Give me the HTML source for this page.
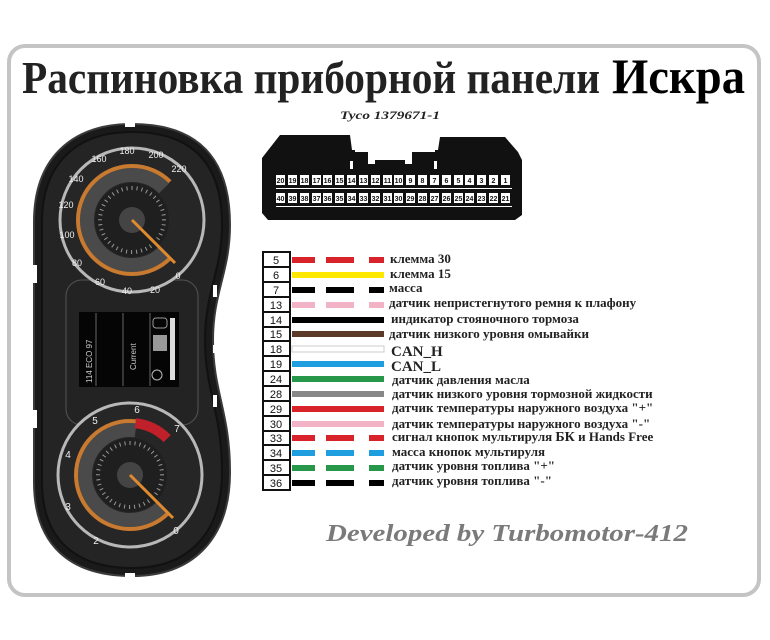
<!DOCTYPE html>
<html><head><meta charset="utf-8"><style>
html,body{margin:0;padding:0;background:#fff;}
svg{display:block;}
</style></head><body>
<svg width="770" height="640" viewBox="0 0 770 640" xmlns="http://www.w3.org/2000/svg" font-family="Liberation Serif, serif">
<rect x="9" y="46" width="750" height="549" rx="16" fill="#fff" stroke="#c4c4c4" stroke-width="4"/>
<text x="22" y="93" font-size="46" font-weight="bold" fill="#222" textLength="578" lengthAdjust="spacingAndGlyphs">Распиновка приборной панели</text>
<text x="612" y="93" font-size="50" font-weight="bold" fill="#000" textLength="133" lengthAdjust="spacingAndGlyphs">Искра</text>
<text x="340" y="119" font-size="12" font-weight="bold" font-style="italic" fill="#222" textLength="100" lengthAdjust="spacingAndGlyphs">Tyco 1379671-1</text>

<!-- connector -->
<path d="M280 135 L350 135 L352 150 L438 150 L440 137 L505 137 L518 152 L522 160 L522 215 L515 220 L268 220 L262 213 L262 158 Z" fill="#111"/>
<rect x="355" y="146" width="80" height="6" fill="#fff"/>
<rect x="368" y="150" width="44" height="14" fill="#fff"/>
<rect x="375" y="160" width="30" height="8" fill="#111"/>
<rect x="350" y="161" width="3" height="8" fill="#fff"/>
<rect x="434" y="161" width="3" height="8" fill="#fff"/>
<g id="pins" font-family="Liberation Sans, sans-serif" font-size="7" font-weight="bold" text-anchor="middle">
<g fill="#fff">
<rect x="276" y="175" width="9" height="10"/><rect x="288" y="175" width="9" height="10"/><rect x="300" y="175" width="9" height="10"/><rect x="312" y="175" width="9" height="10"/><rect x="323" y="175" width="9" height="10"/><rect x="335" y="175" width="9" height="10"/><rect x="347" y="175" width="9" height="10"/><rect x="359" y="175" width="9" height="10"/><rect x="371" y="175" width="9" height="10"/><rect x="383" y="175" width="9" height="10"/><rect x="394" y="175" width="9" height="10"/><rect x="406" y="175" width="9" height="10"/><rect x="418" y="175" width="9" height="10"/><rect x="430" y="175" width="9" height="10"/><rect x="442" y="175" width="9" height="10"/><rect x="454" y="175" width="9" height="10"/><rect x="465" y="175" width="9" height="10"/><rect x="477" y="175" width="9" height="10"/><rect x="489" y="175" width="9" height="10"/><rect x="501" y="175" width="9" height="10"/>
<rect x="276" y="193" width="9" height="10"/><rect x="288" y="193" width="9" height="10"/><rect x="300" y="193" width="9" height="10"/><rect x="312" y="193" width="9" height="10"/><rect x="323" y="193" width="9" height="10"/><rect x="335" y="193" width="9" height="10"/><rect x="347" y="193" width="9" height="10"/><rect x="359" y="193" width="9" height="10"/><rect x="371" y="193" width="9" height="10"/><rect x="383" y="193" width="9" height="10"/><rect x="394" y="193" width="9" height="10"/><rect x="406" y="193" width="9" height="10"/><rect x="418" y="193" width="9" height="10"/><rect x="430" y="193" width="9" height="10"/><rect x="442" y="193" width="9" height="10"/><rect x="454" y="193" width="9" height="10"/><rect x="465" y="193" width="9" height="10"/><rect x="477" y="193" width="9" height="10"/><rect x="489" y="193" width="9" height="10"/><rect x="501" y="193" width="9" height="10"/>
</g>
<g fill="#fff"><rect x="276" y="188" width="236" height="1"/><rect x="276" y="206" width="236" height="1"/></g>
<g fill="#111">
<text x="280.5" y="183">20</text><text x="292.5" y="183">19</text><text x="304.5" y="183">18</text><text x="316.5" y="183">17</text><text x="327.5" y="183">16</text><text x="339.5" y="183">15</text><text x="351.5" y="183">14</text><text x="363.5" y="183">13</text><text x="375.5" y="183">12</text><text x="387.5" y="183">11</text><text x="398.5" y="183">10</text><text x="410.5" y="183">9</text><text x="422.5" y="183">8</text><text x="434.5" y="183">7</text><text x="446.5" y="183">6</text><text x="458.5" y="183">5</text><text x="469.5" y="183">4</text><text x="481.5" y="183">3</text><text x="493.5" y="183">2</text><text x="505.5" y="183">1</text>
<text x="280.5" y="201">40</text><text x="292.5" y="201">39</text><text x="304.5" y="201">38</text><text x="316.5" y="201">37</text><text x="327.5" y="201">36</text><text x="339.5" y="201">35</text><text x="351.5" y="201">34</text><text x="363.5" y="201">33</text><text x="375.5" y="201">32</text><text x="387.5" y="201">31</text><text x="398.5" y="201">30</text><text x="410.5" y="201">29</text><text x="422.5" y="201">28</text><text x="434.5" y="201">27</text><text x="446.5" y="201">26</text><text x="458.5" y="201">25</text><text x="469.5" y="201">24</text><text x="481.5" y="201">23</text><text x="493.5" y="201">22</text><text x="505.5" y="201">21</text>
</g>
</g>

<!-- legend -->
<g font-family="Liberation Sans, sans-serif" font-size="11" text-anchor="middle" fill="#111">
<rect x="263" y="252" width="27" height="238" fill="#fff" stroke="#111" stroke-width="2"/>
<g stroke="#111" stroke-width="2">
<line x1="263" y1="267" x2="290" y2="267"/><line x1="263" y1="282" x2="290" y2="282"/><line x1="263" y1="297" x2="290" y2="297"/><line x1="263" y1="312" x2="290" y2="312"/><line x1="263" y1="327" x2="290" y2="327"/><line x1="263" y1="341" x2="290" y2="341"/><line x1="263" y1="356" x2="290" y2="356"/><line x1="263" y1="371" x2="290" y2="371"/><line x1="263" y1="386" x2="290" y2="386"/><line x1="263" y1="401" x2="290" y2="401"/><line x1="263" y1="416" x2="290" y2="416"/><line x1="263" y1="431" x2="290" y2="431"/><line x1="263" y1="445" x2="290" y2="445"/><line x1="263" y1="460" x2="290" y2="460"/><line x1="263" y1="475" x2="290" y2="475"/>
</g>
<text x="276" y="264">5</text><text x="276" y="279">6</text><text x="276" y="294">7</text><text x="276" y="309">13</text><text x="276" y="324">14</text><text x="276" y="338">15</text><text x="276" y="353">18</text><text x="276" y="368">19</text><text x="276" y="383">24</text><text x="276" y="398">28</text><text x="276" y="413">29</text><text x="276" y="428">30</text><text x="276" y="442">33</text><text x="276" y="457">34</text><text x="276" y="472">35</text><text x="276" y="487">36</text>
</g>
<g stroke-width="6" fill="none">
<line x1="292" y1="260" x2="384" y2="260" stroke="#d8232a" stroke-dasharray="23 11 28 15 16"/>
<line x1="292" y1="275" x2="384" y2="275" stroke="#ffe800"/>
<line x1="292" y1="290" x2="384" y2="290" stroke="#000" stroke-dasharray="23 11 28 15 16"/>
<line x1="292" y1="305" x2="384" y2="305" stroke="#f2b3c6" stroke-dasharray="23 11 28 15 16"/>
<line x1="292" y1="320" x2="384" y2="320" stroke="#000"/>
<line x1="292" y1="334" x2="384" y2="334" stroke="#5b3a2a"/>
<rect x="292" y="346" width="92" height="6" fill="#fff" stroke="#ccc" stroke-width="1"/>
<line x1="292" y1="364" x2="384" y2="364" stroke="#1e9ede"/>
<line x1="292" y1="379" x2="384" y2="379" stroke="#27984a"/>
<line x1="292" y1="394" x2="384" y2="394" stroke="#888"/>
<line x1="292" y1="409" x2="384" y2="409" stroke="#d8232a"/>
<line x1="292" y1="424" x2="384" y2="424" stroke="#f2b3c6"/>
<line x1="292" y1="438" x2="384" y2="438" stroke="#d8232a" stroke-dasharray="23 11 28 15 16"/>
<line x1="292" y1="453" x2="384" y2="453" stroke="#1e9ede" stroke-dasharray="23 11 28 15 16"/>
<line x1="292" y1="468" x2="384" y2="468" stroke="#27984a" stroke-dasharray="23 11 28 15 16"/>
<line x1="292" y1="483" x2="384" y2="483" stroke="#000" stroke-dasharray="23 11 28 15 16"/>
</g>
<g font-size="13" font-weight="bold" fill="#222">
<text x="390" y="263">клемма 30</text>
<text x="390" y="278">клемма 15</text>
<text x="389" y="292">масса</text>
<text x="389" y="307">датчик непристегнутого ремня к плафону</text>
<text x="391" y="323">индикатор стояночного тормоза</text>
<text x="389" y="338">датчик низкого уровня омывайки</text>
<text x="391" y="356" font-size="15">CAN_H</text>
<text x="391" y="371" font-size="15">CAN_L</text>
<text x="392" y="384">датчик давления масла</text>
<text x="392" y="398">датчик низкого уровня тормозной жидкости</text>
<text x="392" y="412">датчик температуры наружного воздуха "+"</text>
<text x="392" y="428">датчик температуры наружного воздуха "-"</text>
<text x="392" y="441">сигнал кнопок мультируля <tspan font-size="14">БК</tspan>  и Hands Free</text>
<text x="392" y="456">масса кнопок мультируля</text>
<text x="392" y="470">датчик уровня топлива "+"</text>
<text x="392" y="485">датчик уровня топлива "-"</text>
</g>

<text x="326" y="541" font-size="24" font-weight="bold" font-style="italic" fill="#7a7a7a" textLength="362" lengthAdjust="spacingAndGlyphs">Developed  by Turbomotor-412</text>

<!-- cluster -->
<path d="M132 124 C200 124 230 160 230 225 C230 272 213 292 213 340 C213 392 230 412 230 472 C230 540 192 576 132 576 C70 576 34 545 34 482 L34 222 C34 160 70 124 132 124 Z" fill="#1a1a1a" stroke="#3a3a3a" stroke-width="2"/>
<path d="M132 132 C194 132 222 165 222 225 C222 270 205 292 205 340 C205 392 222 412 222 472 C222 534 188 568 132 568 C76 568 42 540 42 482 L42 222 C42 164 76 132 132 132 Z" fill="#242424" stroke="#111" stroke-width="2"/>
<g fill="#fff"><rect x="125" y="122" width="10" height="5"/><rect x="33" y="265" width="4" height="18"/><rect x="33" y="410" width="4" height="18"/><rect x="213" y="285" width="4" height="12"/><rect x="213" y="345" width="4" height="8"/><rect x="213" y="395" width="4" height="12"/><rect x="125" y="573" width="10" height="4"/></g>
<rect x="66" y="280" width="132" height="145" rx="16" fill="#232323" stroke="#555" stroke-width="1"/>
<!-- screen -->
<rect x="79" y="312" width="100" height="75" fill="#050505"/>
<g fill="none" stroke="#666" stroke-width="1"><line x1="96" y1="313" x2="96" y2="386"/><line x1="123" y1="313" x2="123" y2="386"/><line x1="150" y1="313" x2="150" y2="386"/></g>
<rect x="170" y="318" width="5" height="62" fill="#ddd"/>
<rect x="153" y="335" width="14" height="16" fill="#999"/>
<rect x="153" y="318" width="14" height="10" rx="3" fill="none" stroke="#999"/>
<circle cx="157" cy="375" r="5" fill="none" stroke="#bbb"/>
<g fill="#ccc" font-family="Liberation Sans, sans-serif" font-size="8"><text transform="translate(92 383) rotate(-90)">114  ECO  97</text><text transform="translate(136 370) rotate(-90)">Current</text></g>

<!-- upper gauge -->
<circle cx="132" cy="220" r="72" fill="#262626" stroke="#b8b8b8" stroke-width="3"/>
<circle cx="132" cy="220" r="45" fill="none" stroke="#5a5a5a" stroke-width="14" stroke-dasharray="212 71" transform="rotate(45 132 220)" opacity="0.7"/>
<circle cx="132" cy="220" r="37" fill="#1f1f1f"/>
<circle cx="132" cy="220" r="54" fill="none" stroke="#c87a30" stroke-width="4" stroke-dasharray="254 85" transform="rotate(45 132 220)"/>
<circle cx="132" cy="220" r="32" fill="none" stroke="#999" stroke-width="4" stroke-dasharray="1 4" transform="rotate(45 132 220)"/>
<circle cx="132" cy="220" r="13" fill="#444"/>
<line x1="132" y1="220" x2="175" y2="263" stroke="#e08a30" stroke-width="3"/>
<g fill="#eee" font-family="Liberation Sans, sans-serif" font-size="9" text-anchor="middle">
<text x="178" y="279">0</text><text x="155" y="293">20</text><text x="127" y="294">40</text><text x="100" y="285">60</text><text x="77" y="266">80</text><text x="67" y="238">100</text><text x="66" y="208">120</text><text x="76" y="182">140</text><text x="99" y="162">160</text><text x="127" y="154">180</text><text x="156" y="158">200</text><text x="179" y="172">220</text>
</g>

<!-- lower gauge -->
<circle cx="130" cy="475" r="72" fill="#262626" stroke="#b8b8b8" stroke-width="3"/>
<circle cx="130" cy="475" r="45" fill="none" stroke="#5a5a5a" stroke-width="14" stroke-dasharray="182 101" transform="rotate(45 130 475)" opacity="0.7"/>
<circle cx="130" cy="475" r="37" fill="#1f1f1f"/>
<circle cx="130" cy="475" r="32" fill="none" stroke="#999" stroke-width="4" stroke-dasharray="1 4" transform="rotate(45 130 475)"/>
<circle cx="130" cy="475" r="54" fill="none" stroke="#c87a30" stroke-width="4" stroke-dasharray="218 121" transform="rotate(45 130 475)"/>
<circle cx="130" cy="475" r="52" fill="none" stroke="#c0202a" stroke-width="10" stroke-dasharray="36 303" transform="rotate(276 130 475)"/>
<circle cx="130" cy="475" r="13" fill="#444"/>
<line x1="130" y1="475" x2="173" y2="518" stroke="#e08a30" stroke-width="3"/>
<g fill="#eee" font-family="Liberation Sans, sans-serif" font-size="10" text-anchor="middle">
<text x="176" y="534">0</text><text x="96" y="544">2</text><text x="68" y="510">3</text><text x="68" y="458">4</text><text x="95" y="424">5</text><text x="137" y="413">6</text><text x="177" y="432">7</text>
</g>
</svg>
</body></html>
